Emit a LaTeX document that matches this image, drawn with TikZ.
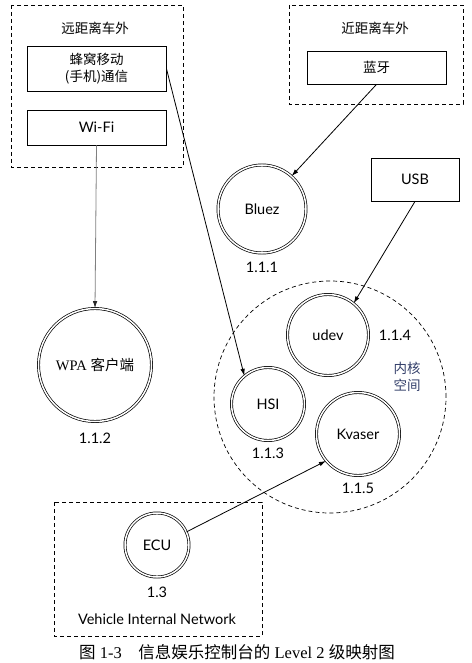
\documentclass[tikz,border=0pt]{standalone}
\usepackage{fontspec}
\setmainfont{Lato}
\newfontfamily\cjk{Noto Sans CJK SC}
\newfontfamily\romanf{Liberation Serif}
\usetikzlibrary{arrows.meta}

\definecolor{kernelblue}{RGB}{50,62,105}

\begin{document}
\begin{tikzpicture}[x=1pt,y=-1pt,
	every node/.style={font=\fontsize{14.5}{16}\selectfont},
	zone/.style={draw, line width=0.7pt, dash pattern=on 4pt off 3pt},
	srcbox/.style={draw, line width=0.8pt, minimum width=139pt, inner sep=2pt},
	proc/.style={circle, draw, double, double distance=1.5pt, line width=0.7pt, inner sep=0pt},
	link/.style={line width=0.8pt, -{Latex[length=7pt,width=4.5pt]}},
	cn/.style={font=\cjk\fontsize{13.5}{17.5}\selectfont},
]
	\useasboundingbox (0,0) rectangle (471,663);
	% trust zones
	\draw[zone] (11,5) rectangle (183,167);
	\draw[zone] (289,5) rectangle (463,104);
	\draw[zone] (54,502) rectangle (262,636);
	\draw[zone] (330,397) circle[radius=116pt];

	\node[cn] (farzone) at (95,28) {远距离车外};
	\node[cn] (nearzone) at (375,28) {近距离车外};
	\node[cn, text=kernelblue, align=left] (kernel) at (407,377) {内核\\空间};

	% external sources
	\node[srcbox, cn, minimum height=45pt, align=center] (cell) at (96.5,68.5) {蜂窝移动\\(手机)通信};
	\node[srcbox, minimum height=35pt] (wifi) at (96.5,127.5) {Wi-Fi};
	\node[srcbox, cn, minimum height=33pt] (bt) at (376.5,67.5) {蓝牙};
	\node[srcbox, minimum width=88pt, minimum height=43pt] (usb) at (415,179.5) {USB};

	% processes
	\node[proc, minimum size=113pt] (wpa) at (95,365) {{\romanf WPA} {\cjk 客户端}};
	\node[proc, minimum size=88pt] (bluez) at (262,209) {Bluez};
	\node[proc, minimum size=81pt] (udev) at (328,335) {udev};
	\node[proc, minimum size=73pt] (hsi) at (268,404) {HSI};
	\node[proc, minimum size=83pt] (kvaser) at (358,434) {Kvaser};
	\node[proc, minimum size=64pt] (ecu) at (157,545) {ECU};

	\node (lblwpa) at (95,438) {1.1.2};
	\node (lblbluez) at (262,267) {1.1.1};
	\node (lbludev) at (395,335) {1.1.4};
	\node (lblhsi) at (268,453) {1.1.3};
	\node (lblkvaser) at (358,488) {1.1.5};
	\node (lblecu) at (157,592) {1.3};
	\node (vin) at (157,619) {Vehicle Internal Network};

	% data flows
	\draw[line width=0.8pt, black!50, -{Latex[length=7pt,width=4.5pt,color=black!85]}] (wifi.south) -- (wpa.north);
	\draw[link] (cell.east) -- (hsi.130);
	\draw[link] (bt.south) -- (bluez.48);
	\draw[link] (usb.south) -- (udev.51);
	\draw[link] (ecu.24) -- (kvaser.220);

	\node[font=\fontsize{16.5}{18}\selectfont] (caption) at (237,652)
		{{\cjk 图} {\romanf 1-3}\quad{\cjk 信息娱乐控制台的} {\romanf Level 2} {\cjk 级映射图}};
\end{tikzpicture}
\end{document}
